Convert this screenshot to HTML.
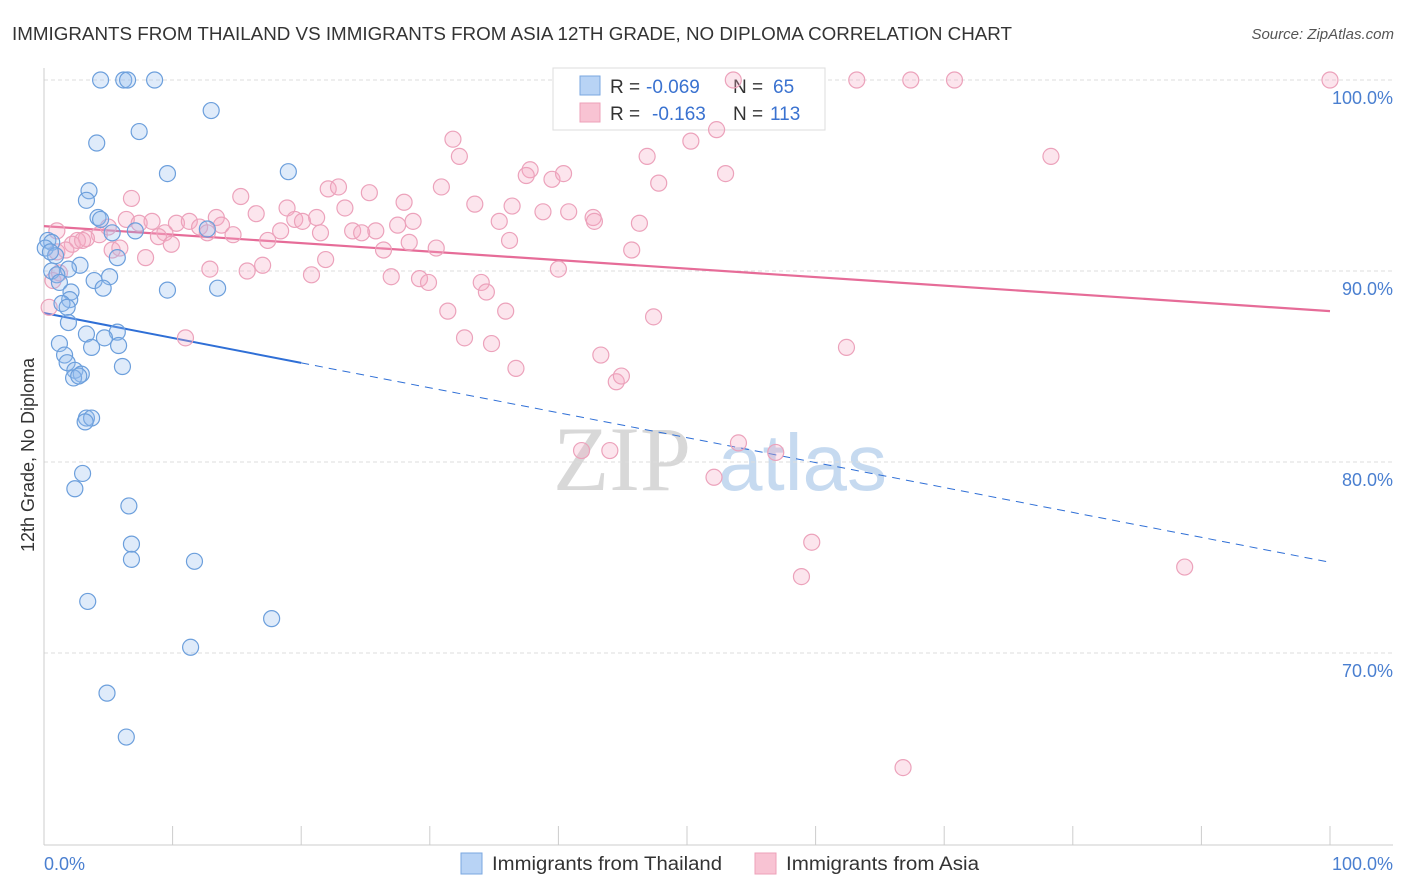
<!DOCTYPE html>
<html><head><meta charset="utf-8"><style>
body{margin:0;background:#fff;font-family:"Liberation Sans",sans-serif;}
#wrap{position:relative;width:1406px;height:892px;overflow:hidden;}
</style></head><body>
<div id="wrap">
<svg id="chart" width="1406" height="892" xmlns="http://www.w3.org/2000/svg">
<text x="12" y="40" font-size="18" fill="#333" textLength="1000" lengthAdjust="spacingAndGlyphs">IMMIGRANTS FROM THAILAND VS IMMIGRANTS FROM ASIA 12TH GRADE, NO DIPLOMA CORRELATION CHART</text>
<text x="1394" y="39" font-size="15" fill="#555" font-style="italic" text-anchor="end">Source: ZipAtlas.com</text>
<g>
<text x="553" y="490" font-size="92" font-family="Liberation Serif,serif" fill="#d8d8d8">ZIP</text>
<text x="718" y="490" font-size="80" fill="#c6daf0">atlas</text>
</g>
<g id="grid"></g><g id="axes"></g>
<g>
<rect x="553" y="68" width="272" height="62" fill="#fff" stroke="#ddd"/>
<rect x="580" y="76" width="20" height="19" fill="#b8d3f5" stroke="#7aa7e0"/>
<text x="610" y="93" font-size="19" fill="#333">R = <tspan fill="#3a72d0" x="646">-0.069</tspan><tspan x="733">N = </tspan><tspan fill="#3a72d0" x="773">65</tspan></text>
<rect x="580" y="103" width="20" height="19" fill="#f8c3d3" stroke="#eea0b8"/>
<text x="610" y="120" font-size="19" fill="#333">R = <tspan fill="#3a72d0" x="652">-0.163</tspan><tspan x="733">N = </tspan><tspan fill="#3a72d0" x="770">113</tspan></text>
</g>
<g id="trend"></g><g id="pts"></g>
<text transform="translate(34,455) rotate(-90)" font-size="18" fill="#333" text-anchor="middle">12th Grade, No Diploma</text>
<text x="44" y="870" font-size="18" fill="#4a7fd0">0.0%</text>
<text x="1393" y="870" font-size="18" fill="#4a7fd0" text-anchor="end">100.0%</text>
<g>
<rect x="461" y="853" width="21" height="21" fill="#b8d3f5" stroke="#7aa7e0"/>
<text x="492" y="870" font-size="19" fill="#333" textLength="230" lengthAdjust="spacingAndGlyphs">Immigrants from Thailand</text>
<rect x="755" y="853" width="21" height="21" fill="#f8c3d3" stroke="#eea0b8"/>
<text x="786" y="870" font-size="19" fill="#333" textLength="193" lengthAdjust="spacingAndGlyphs">Immigrants from Asia</text>
</g>
</svg>
</div>
<script>
const yTicks=[100,90,80,70];
const yTickLabels=["100.0%","90.0%","80.0%","70.0%"];
const xTicks=[0,10,20,30,40,50,60,70,80,90,100];
const blueX=[4.4,6.2,6.5,8.6,13.0,7.4,4.1,9.6,19.0,3.5,3.3,4.2,4.4,7.1,5.3,0.3,0.6,0.1,0.9,0.5,5.7,2.8,1.9,0.6,1.0,3.9,5.1,1.2,4.6,9.6,13.5,2.1,2.0,1.4,1.8,1.9,3.3,5.7,4.7,1.2,3.7,5.8,1.6,1.8,6.1,2.4,2.9,2.3,2.7,3.3,3.7,3.2,3.0,2.4,6.6,6.8,6.8,11.7,3.4,17.7,11.4,4.9,6.4,12.7];
const blueY=[100,100,100,100,98.4,97.3,96.7,95.1,95.2,94.2,93.7,92.8,92.7,92.1,92.0,91.6,91.5,91.2,90.8,91.0,90.7,90.3,90.1,90.0,89.8,89.5,89.7,89.4,89.1,89.0,89.1,88.9,88.5,88.3,88.1,87.3,86.7,86.8,86.5,86.2,86.0,86.1,85.6,85.2,85.0,84.8,84.6,84.4,84.5,82.3,82.3,82.1,79.4,78.6,77.7,75.7,74.9,74.8,72.7,71.8,70.3,67.9,65.6,92.2];
const pinkX=[53.6,63.2,67.4,70.8,100,31.8,32.3,46.9,50.3,52.3,78.3,37.8,37.5,39.5,40.4,47.8,53.0,30.9,22.1,22.9,25.3,28.0,33.5,36.4,38.8,40.8,42.7,42.8,46.3,35.4,6.8,15.3,13.4,16.5,18.9,19.5,20.1,21.2,23.4,28.7,27.5,6.4,7.4,8.4,10.3,11.3,12.1,12.7,13.8,14.7,9.4,8.9,5.0,4.3,3.3,2.6,2.2,3.0,1.7,1.0,5.3,5.9,7.9,9.9,17.4,18.4,21.5,24.0,24.7,25.8,28.4,26.4,30.5,36.2,45.7,12.9,15.8,17.0,20.8,21.9,27.0,29.2,29.9,34.0,34.4,40.0,31.4,35.9,32.7,34.8,11.0,43.3,36.7,44.5,44.9,47.4,62.4,41.8,44.0,54.0,56.9,52.1,59.7,58.9,88.7,66.8,0.4,0.7,1.0,1.2];
const pinkY=[100,100,100,100,100,96.9,96.0,96.0,96.8,97.4,96.0,95.3,95.0,94.8,95.1,94.6,95.1,94.4,94.3,94.4,94.1,93.6,93.5,93.4,93.1,93.1,92.8,92.6,92.5,92.6,93.8,93.9,92.8,93.0,93.3,92.7,92.6,92.8,93.3,92.6,92.4,92.7,92.5,92.6,92.5,92.6,92.3,92.0,92.4,91.9,92.0,91.8,92.3,91.9,91.7,91.6,91.4,91.6,91.1,91.0,91.1,91.2,90.7,91.4,91.6,92.1,92.0,92.1,92.0,92.1,91.5,91.1,91.2,91.6,91.1,90.1,90.0,90.3,89.8,90.6,89.7,89.6,89.4,89.4,88.9,90.1,87.9,87.9,86.5,86.2,86.5,85.6,84.9,84.2,84.5,87.6,86.0,80.6,80.6,81.0,80.5,79.2,75.8,74.0,74.5,64.0,88.1,89.5,92.1,89.9];
const blueTrend=[87.8,74.75];
const pinkTrend=[92.35,87.9];
const blueSolidEnd=20;
const NS="http://www.w3.org/2000/svg";
const X=v=>44+v*12.86;
const Y=v=>80+(100-v)*19.1;
function mk(tag,attrs,parent){const e=document.createElementNS(NS,tag);for(const k in attrs)e.setAttribute(k,attrs[k]);parent.appendChild(e);return e;}
const grid=document.getElementById('grid'),axes=document.getElementById('axes'),trend=document.getElementById('trend'),pts=document.getElementById('pts');
yTicks.forEach((t,i)=>{
 const l=mk('line',{x1:44,x2:1393,y1:Y(t),y2:Y(t),stroke:'#ddd','stroke-dasharray':'4,3'},grid);
 
 
 const tx=mk('text',{x:1393,y:Y(t)+24,'font-size':18,fill:'#4a7fd0','text-anchor':'end'},grid);
 tx.textContent=yTickLabels[i];
 
 
});
const ya=mk('line',{x1:44,x2:44,y1:68,y2:845,stroke:'#ccc'},axes);


const xa=mk('line',{x1:44,x2:1393,y1:845,y2:845,stroke:'#ccc'},axes);


xTicks.forEach(t=>{
 const tk=mk('line',{x1:X(t),x2:X(t),y1:826,y2:845,stroke:'#ccc'},axes);
 
 
});
function tv(tr,x){return tr[0]+(tr[1]-tr[0])*x/100;}
function dots(xs,ys,fill,stroke,name){
 xs.forEach((x,i)=>{
  const c=mk('circle',{cx:X(x),cy:Y(ys[i]),r:8,fill:fill,stroke:stroke,'stroke-width':1.2},pts);
  
  
 });
}
dots(pinkX,pinkY,'rgba(245,170,195,0.3)','#eca2bb','asia');
dots(blueX,blueY,'rgba(150,190,240,0.3)','#6c9fdc','thailand');
const bs=mk('line',{x1:X(0),y1:Y(blueTrend[0]),x2:X(blueSolidEnd),y2:Y(tv(blueTrend,blueSolidEnd)),stroke:'#2f6fd6','stroke-width':2},trend);


const bd=mk('line',{x1:X(blueSolidEnd),y1:Y(tv(blueTrend,blueSolidEnd)),x2:X(100),y2:Y(blueTrend[1]),stroke:'#2f6fd6','stroke-width':1,'stroke-dasharray':'8,6'},trend);


const pl=mk('line',{x1:X(0),y1:Y(pinkTrend[0]),x2:X(100),y2:Y(pinkTrend[1]),stroke:'#e66c98','stroke-width':2.2},trend);


</script>
</body></html>
